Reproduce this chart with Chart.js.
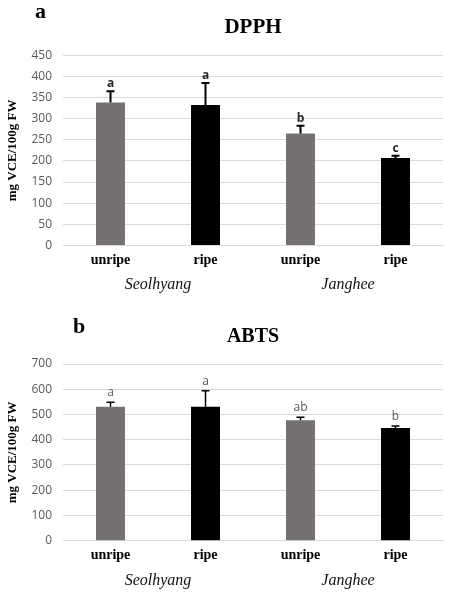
<!DOCTYPE html>
<html>
<head>
<meta charset="utf-8">
<script src="https://cdn.jsdelivr.net/npm/chart.js@4"></script>
<style>
  html, body { margin: 0; padding: 0; background: #ffffff; }
  body { width: 450px; height: 593px; position: relative; overflow: hidden; }
  .panel { position: absolute; left: 0; width: 450px; }
  .tag { position: absolute; font-family: "Liberation Serif", "Times New Roman", serif; font-weight: bold; font-size: 22px; line-height: 1; color: #000; }
</style>
</head>
<body>
<div class="panel" style="top:0px;height:300px;"><canvas id="chartA" width="450" height="300"></canvas></div>
<div class="panel" style="top:310px;height:283px;"><canvas id="chartB" width="450" height="283"></canvas></div>
<div class="tag" style="left:35px;top:0px;">a</div>
<div class="tag" style="left:73px;top:315px;">b</div>
<script>
// ---- data ----
const categories = ['unripe', 'ripe', 'unripe', 'ripe'];
const groups = ['Seolhyang', 'Janghee'];
const barColors = ['#767171', '#000000', '#767171', '#000000'];

const dpphValues = [338, 332, 265, 207];
const dpphErrors = [27, 52, 18, 5];
const dpphLetters = ['a', 'a', 'b', 'c'];
const dpphTicks = { min: 0, max: 450, step: 50 };

const abtsValues = [531, 531, 477, 446];
const abtsErrors = [17, 63, 12, 8];
const abtsLetters = ['a', 'a', 'ab', 'b'];
const abtsTicks = { min: 0, max: 700, step: 100 };

const yTitle = 'mg VCE/100g FW';

function errorPlugin(errors, letters, style) {
  return {
    id: 'errbars',
    afterDatasetsDraw(chart) {
      const ctx = chart.ctx;
      const meta = chart.getDatasetMeta(0);
      const ys = chart.scales.y;
      const vals = chart.data.datasets[0].data;
      ctx.save();
      meta.data.forEach((bar, i) => {
        const x = bar.x;
        const yv = ys.getPixelForValue(vals[i]);
        const yt = ys.getPixelForValue(vals[i] + errors[i]);
        ctx.strokeStyle = '#000';
        ctx.lineWidth = style.lw;
        ctx.beginPath();
        ctx.moveTo(x, yv);
        ctx.lineTo(x, yt);
        ctx.moveTo(x - 4, yt);
        ctx.lineTo(x + 4, yt);
        ctx.stroke();
        ctx.fillStyle = style.color;
        ctx.font = style.font;
        ctx.textAlign = 'center';
        ctx.textBaseline = 'alphabetic';
        ctx.fillText(letters[i], x, yt - style.gap);
      });
      ctx.restore();
    }
  };
}

function makeChart(id, title, values, errors, letters, ticks, style, bottomPad) {
  return new Chart(document.getElementById(id), {
    type: 'bar',
    data: {
      labels: categories,
      datasets: [{
        data: values,
        backgroundColor: barColors,
        borderWidth: 0,
        categoryPercentage: 1.0,
        barPercentage: 0.305
      }]
    },
    options: {
      responsive: false,
      animation: false,
      events: [],
      layout: { padding: { left: 0, right: 7, top: 0, bottom: bottomPad } },
      plugins: {
        legend: { display: false },
        tooltip: { enabled: false },
        title: {
          display: true,
          text: title,
          fullSize: false,
          color: '#000',
          font: { family: 'Liberation Serif', weight: 'bold', size: style.titleSize, lineHeight: 1.2 },
          padding: { top: 15, bottom: 15 }
        }
      },
      scales: {
        x: {
          position: 'bottom',
          grid: { display: false, drawTicks: false },
          border: { display: true, color: '#d9d9d9', width: 1 },
          ticks: {
            color: '#000',
            padding: 6,
            font: { family: 'Liberation Serif', weight: 'bold', size: 14 }
          },
          afterFit(s) { s.height = 25; }
        },
        x2: {
          type: 'category',
          position: 'bottom',
          labels: groups,
          offset: true,
          grid: { display: false, drawTicks: false },
          border: { display: false },
          ticks: {
            color: '#111',
            padding: 5,
            font: { family: 'Liberation Serif', style: 'italic', size: 16 }
          },
          afterFit(s) { s.height = 25; }
        },
        y: {
          min: ticks.min,
          max: ticks.max,
          grid: { color: '#d9d9d9', drawTicks: false, lineWidth: 1 },
          border: { display: false },
          ticks: {
            stepSize: ticks.step,
            color: '#595959',
            padding: 11,
            font: { family: 'Open Sans', size: 12 }
          },
          title: {
            display: true,
            text: yTitle,
            color: '#000',
            padding: { top: 5, bottom: 0 },
            font: { family: 'Liberation Serif', weight: 'bold', size: 13 }
          },
          afterFit(s) { s.width = 63; }
        }
      }
    },
    plugins: [errorPlugin(errors, letters, style)]
  });
}

makeChart('chartA', 'DPPH', dpphValues, dpphErrors, dpphLetters, dpphTicks,
  { lw: 2, color: '#262626', font: 'bold 12px "Open Sans"', gap: 4, titleSize: 21 }, 4.5);
makeChart('chartB', 'ABTS', abtsValues, abtsErrors, abtsLetters, abtsTicks,
  { lw: 1.5, color: '#595959', font: '12px "Open Sans"', gap: 6, titleSize: 20 }, 2.3);
</script>
</body>
</html>
